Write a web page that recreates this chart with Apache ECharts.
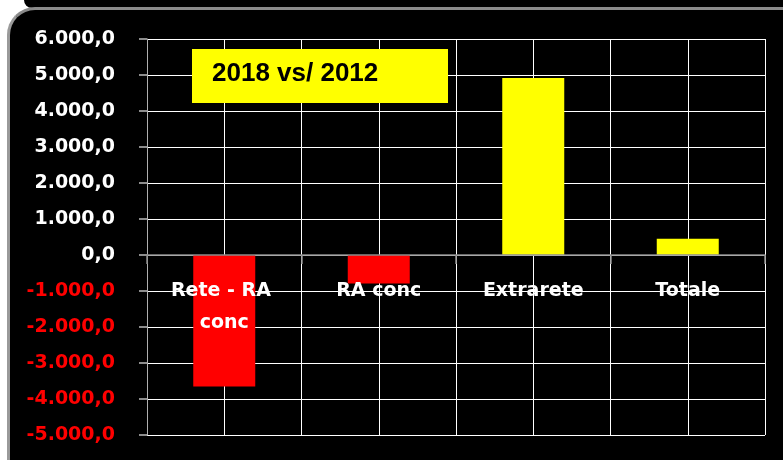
<!DOCTYPE html>
<html>
<head>
<meta charset="utf-8">
<script src="https://cdn.jsdelivr.net/npm/echarts@6/dist/echarts.min.js"></script>
<style>
  html, body { margin: 0; padding: 0; background: #fff; width: 783px; height: 460px; overflow: hidden; }
  #topstrip { position: absolute; left: 24px; top: 0; width: 800px; height: 8px; background: #000; border-bottom-left-radius: 12px; }
  #frame { position: absolute; left: 7px; top: 7px; width: 900px; height: 600px; background: #000;
           border-top: 3px solid #8a8a8a; border-left: 3px solid #9a9a9a; border-top-left-radius: 28px; }
  #chart { position: absolute; left: 0; top: 0; width: 783px; height: 460px; }
</style>
</head>
<body>
<div id="topstrip"></div>
<div id="frame"></div>
<div id="chart"></div>
<script>
// ---- data ----
const categories = ['Rete - RA conc', 'RA conc', 'Extrarete', 'Totale'];
const values = [-3650, -790, 4920, 450];
const yTicks = { min: -5000, max: 6000, interval: 1000 };
const titleText = '2018 vs/ 2012';

function fmtIt(v) {
  const neg = v < 0;
  const s = Math.abs(v).toFixed(1).split('.');
  const intPart = s[0].replace(/\B(?=(\d{3})+(?!\d))/g, '.');
  return (neg ? '-' : '') + intPart + ',' + s[1];
}

const gridRect = { left: 147, right: 18, top: 39, bottom: 25, containLabel: false, outerBoundsMode: 'none' };

const chart = echarts.init(document.getElementById('chart'), null, { renderer: 'canvas' });
const baseOption = {
  backgroundColor: 'transparent',
  animation: false,
  grid: [Object.assign({}, gridRect), Object.assign({}, gridRect)],
  xAxis: [
    {
      type: 'category',
      gridIndex: 0,
      data: categories,
      axisLine: { show: false },
      axisTick: { show: false },
      axisLabel: { show: false },
      splitLine: { show: false }
    },
    {
      type: 'value',
      gridIndex: 1,
      min: 0, max: 8, interval: 1,
      z: 0,
      axisLine: { show: false, onZero: false },
      axisTick: { show: false },
      axisLabel: { show: false },
      splitLine: { show: true, lineStyle: { color: '#ffffff', width: 1 } }
    }
  ],
  yAxis: [
    {
      type: 'value',
      gridIndex: 0,
      min: yTicks.min, max: yTicks.max, interval: yTicks.interval,
      axisLine: { show: true, onZero: false, lineStyle: { color: '#b0b0b0', width: 1 } },
      axisTick: { show: true, length: 8, lineStyle: { color: '#8c8c8c', width: 2 } },
      splitLine: { show: true, lineStyle: { color: '#ffffff', width: 1 } },
      axisLabel: {
        margin: 32,
        fontFamily: 'DejaVu Sans',
        fontWeight: 'bold',
        fontSize: 19,
        formatter: function (v) { return fmtIt(v); },
        color: function (v) { return Number(v) < 0 ? '#ff0000' : '#ffffff'; }
      }
    },
    {
      type: 'value',
      gridIndex: 1,
      min: 0, max: 1,
      z: 0,
      axisLine: { show: false, onZero: false },
      axisTick: { show: false },
      axisLabel: { show: false },
      splitLine: { show: false }
    }
  ],
  series: [{
    type: 'bar',
    xAxisIndex: 0,
    yAxisIndex: 0,
    barWidth: 62,
    z: 2,
    data: values.map(v => ({ value: v, itemStyle: { color: v < 0 ? '#ff0000' : '#ffff00' } }))
  }],
  graphic: [
    {
      type: 'rect', left: 192, top: 49, z: 20,
      shape: { width: 256, height: 54 },
      style: { fill: '#ffff00' }
    },
    {
      type: 'text', left: 212, top: 61, z: 21,
      style: { text: titleText, fill: '#000', font: 'bold 26px "Liberation Sans", Arial, sans-serif' }
    }
  ]
};
chart.setOption(baseOption);

// Category axis drawn on the zero line of the value axis (position from the library's scale)
const y0 = chart.convertToPixel({ yAxisIndex: 0 }, 0);
const zeroGrid = Object.assign({}, gridRect, { bottom: null, height: y0 - gridRect.top });
baseOption.grid.push(zeroGrid);
baseOption.xAxis.push({
  type: 'category',
  gridIndex: 2,
  data: categories,
  z: 10,
  axisLine: { show: true, onZero: false, lineStyle: { color: '#8c8c8c', width: 1.5 } },
  axisTick: { show: true, length: 9, lineStyle: { color: '#8c8c8c', width: 1.5 } },
  splitLine: { show: false },
  axisLabel: {
    color: '#ffffff',
    fontFamily: 'DejaVu Sans',
    fontWeight: 'bold',
    fontSize: 19,
    lineHeight: 32,
    margin: 20,
    width: 125,
    overflow: 'break',
    interval: 0
  }
});
baseOption.yAxis.push({
  type: 'value', gridIndex: 2, min: 0, max: 1,
  axisLine: { show: false, onZero: false }, axisTick: { show: false },
  axisLabel: { show: false }, splitLine: { show: false }
});
chart.setOption(baseOption, true);
</script>
</body>
</html>
